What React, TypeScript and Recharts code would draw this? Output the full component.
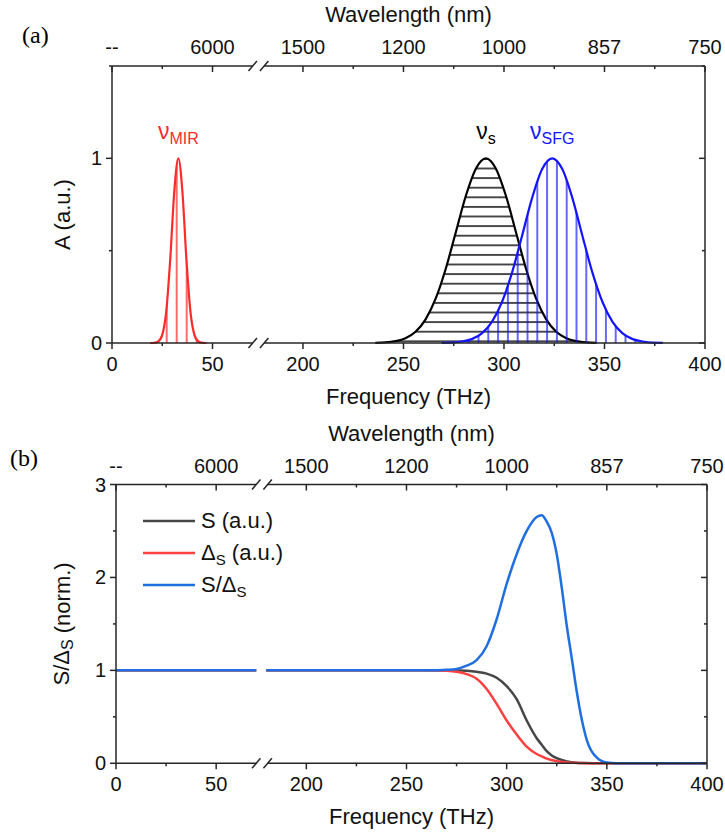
import React from 'react';
import {
  ComposedChart, Area, Line, XAxis, YAxis, ReferenceLine, ReferenceDot, Legend, Label,
} from 'recharts';

const FONT = "Arial, 'Liberation Sans', sans-serif";
const SERIF = "'Liberation Serif', 'Times New Roman', serif";
const AX = '#262626';

// broken frequency axis: the part between 72.5 and 177.5 THz is cut out
const BREAK_LO = 72.5;
const BREAK_HI = 177.5;
const toT = (f: number) => (f <= BREAK_LO ? f : f - (BREAK_HI - BREAK_LO));
const T_MAX = toT(400);

const freqTicks = [0, 50, 200, 250, 300, 350, 400];
const minorFreqTicks = [25, 225, 275, 325, 375];
const freqLabels = ['0', '50', '200', '250', '300', '350', '400'];
const waveLabels = ['--', '6000', '1500', '1200', '1000', '857', '750'];

// (a) spectra
const mirFreq = [19, 21, 23, 25, 27, 29, 31, 33, 35, 37, 39, 41, 43, 45, 47];
const mirAmp = [0, 0.001, 0.008, 0.044, 0.172, 0.458, 0.823, 1, 0.823, 0.458, 0.172, 0.044, 0.008, 0.001, 0];
const sigFreq = [236, 241, 246, 251, 256, 261, 266, 271, 276, 281, 286, 291, 296, 301, 306, 311, 316, 321, 326, 331, 336, 341, 346];
const sigAmp = [0.001, 0.003, 0.01, 0.026, 0.061, 0.128, 0.24, 0.401, 0.598, 0.796, 0.944, 1, 0.944, 0.796, 0.598, 0.401, 0.24, 0.128, 0.061, 0.026, 0.01, 0.003, 0.001];
const sfgFreq = [269, 274, 279, 284, 289, 294, 299, 304, 309, 314, 319, 324, 329, 334, 339, 344, 349, 354, 359, 364, 369, 374, 379];
const sfgAmp = [0.001, 0.002, 0.008, 0.021, 0.052, 0.114, 0.222, 0.381, 0.581, 0.786, 0.942, 1, 0.942, 0.786, 0.581, 0.381, 0.222, 0.114, 0.052, 0.021, 0.008, 0.002, 0.001];

// (b) curves
const freqB = [0, 70, 180, 250, 260, 265, 270, 275, 280, 285, 290, 295, 300, 305, 310, 315, 317.5, 320, 322.5, 325, 327.5, 330, 332.5, 335, 337.5, 340, 345, 350, 355, 360, 400];
const sB = [1, 1, 1, 1, 1, 1, 1, 0.998, 0.995, 0.985, 0.965, 0.92, 0.83, 0.69, 0.46, 0.27, 0.2, 0.13, 0.085, 0.055, 0.035, 0.02, 0.012, 0.007, 0.004, 0.002, 0.001, 0, 0, 0, 0];
const dB = [1, 1, 1, 1, 1, 0.998, 0.995, 0.985, 0.96, 0.91, 0.8, 0.64, 0.46, 0.31, 0.18, 0.1, 0.075, 0.05, 0.035, 0.022, 0.015, 0.01, 0.006, 0.004, 0.002, 0.001, 0, 0, 0, 0, 0];
const rB = [1, 1, 1, 1, 1, 1.002, 1.006, 1.015, 1.05, 1.11, 1.26, 1.55, 1.93, 2.25, 2.5, 2.65, 2.67, 2.6, 2.48, 2.25, 1.89, 1.48, 1.13, 0.77, 0.47, 0.25, 0.06, 0.008, 0.001, 0, 0];

const yTicksA = [0, 0.5, 1, 1.5];
const yTicksB = [0, 0.5, 1, 1.5, 2, 2.5, 3];

const majorT = freqTicks.map(toT);
const allT = [...freqTicks, ...minorFreqTicks].map(toT).sort((a, b) => a - b);

const mirRows = mirFreq.map((f, i) => ({ t: toT(f), a: mirAmp[i] }));
const sigRows = sigFreq.map((f, i) => ({ t: toT(f), a: sigAmp[i] }));
const sfgRows = sfgFreq.map((f, i) => ({ t: toT(f), a: sfgAmp[i] }));

const rowsB: any[] = [];
freqB.forEach((f, i) => {
  if (f > BREAK_LO && rowsB.length && rowsB[rowsB.length - 1].t < BREAK_LO) {
    rowsB.push({ t: BREAK_LO, s: null, d: null, r: null }); // gap in the lines at the break
  }
  rowsB.push({ t: toT(f), s: sB[i], d: dB[i], r: rB[i] });
});

// draws the bottom tick and its mirror on the top (wavelength) axis
function XTick({ x, y, payload, plotTop }: any) {
  const i = majorT.indexOf(payload.value);
  const major = i >= 0;
  const len = major ? 6 : 3;
  return (
    <g>
      <line x1={x} x2={x} y1={y} y2={y + len} stroke={AX} strokeWidth={1.5} />
      <line x1={x} x2={x} y1={plotTop} y2={plotTop + len} stroke={AX} strokeWidth={1.5} />
      {major && (
        <>
          <text x={x} y={y + 28} textAnchor="middle" fontSize={20} fill="#111" fontFamily={FONT}>{freqLabels[i]}</text>
          <text x={x} y={plotTop - 12} textAnchor="middle" fontSize={20} fill="#111" fontFamily={FONT}>{waveLabels[i]}</text>
        </>
      )}
    </g>
  );
}

// left tick with label, plus the inward tick on the right frame
function YTick({ x, y, payload, plotRight }: any) {
  const v = payload.value;
  const major = Number.isInteger(v);
  const len = major ? 6 : 3;
  return (
    <g>
      <line x1={x} x2={x - len} y1={y} y2={y} stroke={AX} strokeWidth={1.5} />
      <line x1={plotRight} x2={plotRight - len} y1={y} y2={y} stroke={AX} strokeWidth={1.5} />
      {major && (
        <text x={x - 10} y={y + 7} textAnchor="end" fontSize={20} fill="#111" fontFamily={FONT}>{v}</text>
      )}
    </g>
  );
}

// frame pieces: broken top/bottom lines with // marks, and the right edge
function frame(yTop: number, dy: number) {
  const seg = (k: string, a: any, b: any) => (
    <ReferenceLine key={k} xAxisId="b" yAxisId="l" segment={[a, b]} stroke={AX} strokeWidth={1.5} ifOverflow="visible" />
  );
  const out: any[] = [];
  [0, yTop].forEach((yv) => {
    out.push(seg(`p1${yv}`, { x: 0, y: yv }, { x: 70, y: yv }));
    out.push(seg(`p2${yv}`, { x: 75.7, y: yv }, { x: T_MAX, y: yv }));
    out.push(seg(`s1${yv}`, { x: 67.9, y: yv - dy }, { x: 72.1, y: yv + dy }));
    out.push(seg(`s2${yv}`, { x: 73.6, y: yv - dy }, { x: 77.8, y: yv + dy }));
  });
  out.push(seg('right', { x: T_MAX, y: 0 }, { x: T_MAX, y: yTop }));
  return out;
}

function Nu({ cx, cy, sub, color }: any) {
  return (
    <text x={cx} y={cy} textAnchor="middle" fill={color} fontFamily={FONT} fontSize={23}>
      ν<tspan fontSize={16} dy={5}>{sub}</tspan>
    </text>
  );
}

const subStyle: React.CSSProperties = { fontSize: 15, position: 'relative', top: 5 };
const legendOrder = ['s', 'd', 'r'];
const legendNames: Record<string, React.ReactNode> = {
  s: <>S (a.u.)</>,
  d: <>Δ<span style={subStyle}>S</span> (a.u.)</>,
  r: <>S/Δ<span style={subStyle}>S</span></>,
};

function LegendB({ payload }: any) {
  const items = [...(payload || [])].sort((a: any, b: any) => legendOrder.indexOf(a.dataKey) - legendOrder.indexOf(b.dataKey));
  return (
    <div style={{ fontFamily: FONT, fontSize: 22, color: '#111' }}>
      {items.map((p: any) => (
        <div key={p.dataKey} style={{ display: 'flex', alignItems: 'center', height: 32, whiteSpace: 'nowrap' }}>
          <svg width={52} height={4}><line x1={0} x2={52} y1={2} y2={2} stroke={p.color} strokeWidth={2.5} /></svg>
          <span style={{ marginLeft: 6 }}>{legendNames[p.dataKey]}</span>
        </div>
      ))}
    </div>
  );
}

const xTitles = (plotTop: number) => (p: any) => {
  const cx = p.viewBox.x + p.viewBox.width / 2;
  return (
    <g fontSize={22} fill="#111" fontFamily={FONT} textAnchor="middle">
      <text x={cx} y={p.viewBox.y + 61}>Frequency (THz)</text>
      <text x={cx} y={plotTop - 44}>Wavelength (nm)</text>
    </g>
  );
};
const yTitle = (content: React.ReactNode, shift: number) => (p: any) => {
  const cy = p.viewBox.y + p.viewBox.height / 2 + shift;
  return (
    <text x={62} y={cy} transform={`rotate(-90, 62, ${cy})`} textAnchor="middle" dominantBaseline="central" fontSize={22} fill="#111" fontFamily={FONT}>{content}</text>
  );
};

export default function App() {
  return (
    <div style={{ position: 'absolute', left: 0, top: 0, width: 725, height: 835, background: '#fff' }}>
      <div style={{ position: 'absolute', left: 22, top: 23, fontFamily: SERIF, fontSize: 24, lineHeight: 1 }}>(a)</div>
      <div style={{ position: 'absolute', left: 10, top: 446, fontFamily: SERIF, fontSize: 24, lineHeight: 1 }}>(b)</div>

      <div style={{ position: 'absolute', left: 0, top: 0 }}>
        <ComposedChart width={725} height={420} margin={{ top: 66, right: 20, bottom: 0, left: 0 }}>
          <defs>
            <pattern id="hatchS" patternUnits="userSpaceOnUse" x={0} y={326.9} width={20} height={9.6}>
              <line x1={0} x2={20} y1={4.8} y2={4.8} stroke="#000" strokeWidth={1.4} />
            </pattern>
            <pattern id="hatchMir" patternUnits="userSpaceOnUse" x={161.7} y={0} width={10} height={20}>
              <line x1={5} x2={5} y1={0} y2={20} stroke="#ff2b2b" strokeWidth={1.4} />
            </pattern>
            <pattern id="hatchSfg" patternUnits="userSpaceOnUse" x={483.4} y={0} width={9.8} height={20}>
              <line x1={4.9} x2={4.9} y1={0} y2={20} stroke="#1414ff" strokeWidth={1.3} />
            </pattern>
          </defs>
          <XAxis xAxisId="b" type="number" dataKey="t" domain={[0, T_MAX]} ticks={allT} interval={0}
            orientation="bottom" height={77} axisLine={false} tickLine={false} tickSize={0} tickMargin={0}
            tick={(p: any) => <XTick {...p} plotTop={66} />}>
            <Label content={xTitles(66)} />
          </XAxis>
          <YAxis yAxisId="l" type="number" domain={[0, 1.5]} ticks={yTicksA} interval={0} width={112}
            axisLine={{ stroke: AX, strokeWidth: 1.5 }} tickLine={false} tickSize={0} tickMargin={0}
            tick={(p: any) => <YTick {...p} plotRight={705} />}>
            <Label content={yTitle('A (a.u.)', 10)} />
          </YAxis>

          <Area xAxisId="b" yAxisId="l" data={mirRows} dataKey="a" type="monotone" stroke="#ff2b2b" strokeWidth={2.2}
            fill="url(#hatchMir)" fillOpacity={1} dot={false} activeDot={false} isAnimationActive={false} />
          <Area xAxisId="b" yAxisId="l" data={sigRows} dataKey="a" type="monotone" stroke="#000" strokeWidth={2.2}
            fill="url(#hatchS)" fillOpacity={1} dot={false} activeDot={false} isAnimationActive={false} />
          <Area xAxisId="b" yAxisId="l" data={sfgRows} dataKey="a" type="monotone" stroke="#1414ff" strokeWidth={2.2}
            fill="url(#hatchSfg)" fillOpacity={1} dot={false} activeDot={false} isAnimationActive={false} />

          {frame(1.5, 0.027)}

          <ReferenceDot xAxisId="b" yAxisId="l" x={toT(33)} y={1.104} r={0}
            shape={(p: any) => <Nu cx={p.cx} cy={p.cy} sub="MIR" color="#ff2b2b" />} />
          <ReferenceDot xAxisId="b" yAxisId="l" x={toT(291)} y={1.104} r={0}
            shape={(p: any) => <Nu cx={p.cx} cy={p.cy} sub="s" color="#000" />} />
          <ReferenceDot xAxisId="b" yAxisId="l" x={toT(324)} y={1.104} r={0}
            shape={(p: any) => <Nu cx={p.cx} cy={p.cy} sub="SFG" color="#1414ff" />} />
        </ComposedChart>
      </div>

      <div style={{ position: 'absolute', left: 0, top: 420 }}>
        <ComposedChart width={725} height={415} data={rowsB} margin={{ top: 64.5, right: 18, bottom: 0, left: 0 }}>
          <XAxis xAxisId="b" type="number" dataKey="t" domain={[0, T_MAX]} ticks={allT} interval={0}
            orientation="bottom" height={71.7} axisLine={false} tickLine={false} tickSize={0} tickMargin={0}
            tick={(p: any) => <XTick {...p} plotTop={64.5} />}>
            <Label content={xTitles(64.5)} />
          </XAxis>
          <YAxis yAxisId="l" type="number" domain={[0, 3]} ticks={yTicksB} interval={0} width={116}
            axisLine={{ stroke: AX, strokeWidth: 1.5 }} tickLine={false} tickSize={0} tickMargin={0}
            tick={(p: any) => <YTick {...p} plotRight={707} />}>
            <Label content={yTitle(<>S/Δ<tspan fontSize={16} dy={5}>S</tspan><tspan dy={-5}> (norm.)</tspan></>, 0)} />
          </YAxis>

          <Line xAxisId="b" yAxisId="l" dataKey="s" name="S (a.u.)" type="monotone" stroke="#474747" strokeWidth={2.5}
            dot={false} activeDot={false} isAnimationActive={false} />
          <Line xAxisId="b" yAxisId="l" dataKey="d" name="ΔS (a.u.)" type="monotone" stroke="#ff4040" strokeWidth={2.5}
            dot={false} activeDot={false} isAnimationActive={false} />
          <Line xAxisId="b" yAxisId="l" dataKey="r" name="S/ΔS" type="monotone" stroke="#1f6fe0" strokeWidth={2.5}
            dot={false} activeDot={false} isAnimationActive={false} />

          {frame(3, 0.054)}

          <Legend layout="vertical" align="center" verticalAlign="middle" content={<LegendB />}
            wrapperStyle={{ left: 143, top: 85, width: 'auto' }} />
        </ComposedChart>
      </div>
    </div>
  );
}
